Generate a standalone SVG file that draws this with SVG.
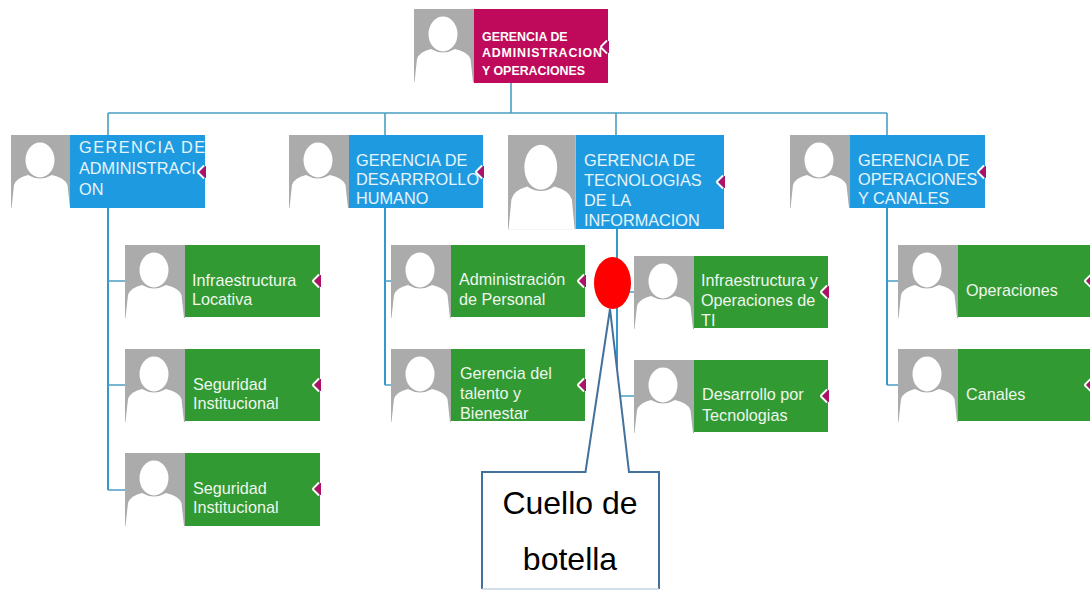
<svg xmlns="http://www.w3.org/2000/svg" width="1090" height="590" viewBox="0 0 1090 590">
<style>
.t{font-family:"Liberation Sans",Arial,sans-serif;fill:#eef6ee}
.b{font-size:16.300px;fill:#e6f4fc}
.g{font-size:16.200px}
.r{font-size:12.400px;font-weight:bold;fill:#fff}
.c{fill:none;stroke:#4a9fc4;stroke-width:1.600}
.s{fill:none;stroke:#3598cc;stroke-width:2}
.blue{fill:#1e9be0}
.green{fill:#329a32}
.mag{fill:#bf0a5c}
.call{font-family:"Liberation Sans",Arial,sans-serif;font-size:32px;fill:#000;text-anchor:middle}
</style>
<defs>
<g id="p">
<rect width="60" height="73" fill="#ababab"/>
<ellipse cx="29" cy="25" rx="14.500" ry="17.500" fill="#fff"/>
<path d="M0.500 73 L3 50 Q5 43 17 40 Q29 47 41 40 Q54 43 56.500 50 L59 73 Z" fill="#fff"/>
</g>
<g id="k">
<path d="M0 0 L6 -6 L7 -6 L7 6 L6 6 Z" fill="#b0106a"/>
<path d="M-1.500 0 L5 -6.500 M-1.500 0 L5 6.500" stroke="#fff" stroke-width="1.800" fill="none"/>
</g>
</defs>
<rect width="1090" height="590" fill="#fff"/>
<g id="connectors">
<path class="c" d="M511 83V113M108 113H887M108 113V135M385 113V135M616 113V135M887 113V135"/>
<path class="s" d="M108 208V490M385 208V385M617 229V396M887 208V385"/>
<path class="c" d="M108 281H125M108 385H125M108 490H125"/>
<path class="c" d="M385 385H391M385 281H391"/>
<path class="c" d="M617 396H634M617 292H634"/>
<path class="c" d="M887 385H898M887 281H898"/>
</g>
<g id="root"><use href="#p" x="414" y="9"/><rect class="mag" x="474" y="9" width="134" height="74"/><use href="#k" x="602" y="47"/>
<text class="t r"><tspan x="482" y="41">GERENCIA DE</tspan><tspan x="482" y="57" textLength="120">ADMINISTRACION</tspan><tspan x="482" y="75">Y OPERACIONES</tspan></text></g>
<g id="gerencia-admin"><use href="#p" x="11" y="135"/><rect class="blue" x="70" y="135" width="135" height="73"/><use href="#k" x="199" y="172"/>
<text class="t b"><tspan x="79" y="153" textLength="126">GERENCIA DE</tspan><tspan x="79" y="174">ADMINISTRACI</tspan><tspan x="79" y="195">ON</tspan></text></g>
<g id="gerencia-desarrollo"><use href="#p" x="289" y="135"/><rect class="blue" x="349" y="135" width="134" height="73"/><use href="#k" x="477" y="172"/>
<text class="t b"><tspan x="356" y="166">GERENCIA DE</tspan><tspan x="356" y="185">DESARRROLLO</tspan><tspan x="356" y="204">HUMANO</tspan></text></g>
<g id="gerencia-ti"><use href="#p" transform="translate(508 135) scale(1.130 1.290)"/><rect class="blue" x="576" y="135" width="148" height="94"/><use href="#k" x="718" y="182"/>
<text class="t b"><tspan x="584" y="166">GERENCIA DE</tspan><tspan x="584" y="186">TECNOLOGIAS</tspan><tspan x="584" y="206">DE LA</tspan><tspan x="584" y="226">INFORMACION</tspan></text></g>
<g id="gerencia-operaciones"><use href="#p" x="790" y="135"/><rect class="blue" x="850" y="135" width="135" height="73"/><use href="#k" x="979" y="172"/>
<text class="t b"><tspan x="858" y="166">GERENCIA DE</tspan><tspan x="858" y="185">OPERACIONES</tspan><tspan x="858" y="204">Y CANALES</tspan></text></g>
<g id="infra-locativa"><use href="#p" x="125" y="245"/><rect class="green" x="185" y="245" width="135" height="72"/><use href="#k" x="314" y="281"/>
<text class="t g"><tspan x="192" y="286">Infraestructura</tspan><tspan x="192" y="305">Locativa</tspan></text></g>
<g id="seguridad-1"><use href="#p" x="125" y="349"/><rect class="green" x="185" y="349" width="135" height="72"/><use href="#k" x="314" y="385"/>
<text class="t g"><tspan x="193" y="390">Seguridad</tspan><tspan x="193" y="409">Institucional</tspan></text></g>
<g id="seguridad-2"><use href="#p" x="125" y="453"/><rect class="green" x="185" y="453" width="135" height="73"/><use href="#k" x="314" y="489"/>
<text class="t g"><tspan x="193" y="494">Seguridad</tspan><tspan x="193" y="513">Institucional</tspan></text></g>
<g id="admin-personal"><use href="#p" x="391" y="245"/><rect class="green" x="451" y="245" width="134" height="72"/><use href="#k" x="579" y="281"/>
<text class="t g"><tspan x="459" y="285">Administración</tspan><tspan x="459" y="305">de Personal</tspan></text></g>
<g id="talento"><use href="#p" x="391" y="349"/><rect class="green" x="451" y="349" width="134" height="72"/><use href="#k" x="579" y="385"/>
<text class="t g"><tspan x="460" y="379">Gerencia del</tspan><tspan x="460" y="399">talento y</tspan><tspan x="460" y="419">Bienestar</tspan></text></g>
<g id="infra-ti"><use href="#p" x="634" y="256"/><rect class="green" x="694" y="256" width="134" height="72"/><use href="#k" x="822" y="292"/>
<text class="t g"><tspan x="701" y="286">Infraestructura y</tspan><tspan x="701" y="306">Operaciones de</tspan><tspan x="701" y="326">TI</tspan></text></g>
<g id="desarrollo-tec"><use href="#p" x="634" y="360"/><rect class="green" x="694" y="360" width="134" height="72"/><use href="#k" x="822" y="396"/>
<text class="t g"><tspan x="702" y="400">Desarrollo por</tspan><tspan x="702" y="421">Tecnologias</tspan></text></g>
<g id="operaciones"><use href="#p" x="898" y="245"/><rect class="green" x="958" y="245" width="132" height="72"/><use href="#k" x="1086" y="281"/>
<text class="t g"><tspan x="966" y="296">Operaciones</tspan></text></g>
<g id="canales"><use href="#p" x="898" y="349"/><rect class="green" x="958" y="349" width="132" height="72"/><use href="#k" x="1086" y="385"/>
<text class="t g"><tspan x="966" y="400">Canales</tspan></text></g>
<g id="cuello"><ellipse cx="612.500" cy="283" rx="18.500" ry="26" fill="#f00"/>
<path d="M482 589V472H585.500L610 309L629 472H659V589" fill="#fff" stroke="#41719c" stroke-width="2"/>
<path d="M482 589H659" stroke="#c4d3e2" stroke-width="1.500"/>
<text class="call"><tspan x="570" y="514">Cuello de</tspan><tspan x="570" y="570">botella</tspan></text></g>
</svg>
